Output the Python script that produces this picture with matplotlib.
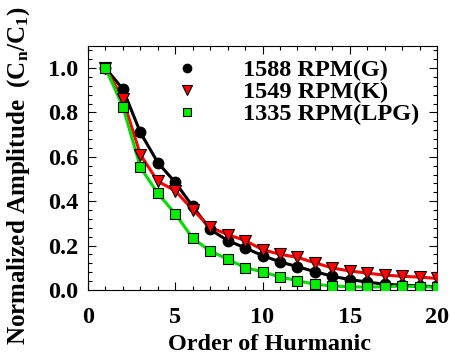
import numpy as np
import matplotlib
matplotlib.use("Agg")
import matplotlib.pyplot as plt
from matplotlib.ticker import MultipleLocator

# === Data ===
order = np.arange(1, 21)
amp_g = [1.0, 0.905, 0.71, 0.574, 0.485, 0.377, 0.273, 0.223, 0.19, 0.155,
         0.127, 0.105, 0.083, 0.062, 0.047, 0.036, 0.026, 0.022, 0.018, 0.015]
amp_k = [1.0, 0.86, 0.61, 0.49, 0.447, 0.362, 0.283, 0.25, 0.223, 0.182,
         0.161, 0.147, 0.123, 0.099, 0.086, 0.076, 0.067, 0.062, 0.058, 0.052]
amp_lpg = [1.0, 0.826, 0.553, 0.435, 0.344, 0.233, 0.176, 0.139, 0.101, 0.082,
           0.059, 0.042, 0.026, 0.018, 0.015, 0.013, 0.015, 0.018, 0.015, 0.013]
labels = ['1588 RPM(G)', '1549 RPM(K)', '1335 RPM(LPG)']

# === Style ===
plt.rcParams['font.family'] = 'Liberation Serif'
plt.rcParams['font.weight'] = 'bold'
plt.rcParams['font.size'] = 17.5
plt.rcParams['mathtext.fontset'] = 'custom'
plt.rcParams['mathtext.rm'] = 'Liberation Serif:bold'
plt.rcParams['mathtext.it'] = 'Liberation Serif:bold'
plt.rcParams['mathtext.bf'] = 'Liberation Serif:bold'

fig = plt.figure(figsize=(4.5, 3.56), dpi=100)
ax = fig.add_axes([0.1956, 0.1854, 0.7755, 0.6856])

# lines first, markers on top
ax.plot(order, amp_g, color='black', lw=2.2, zorder=2)
ax.plot(order, amp_k, color='#ff0000', lw=2.2, zorder=2)
ax.plot(order, amp_lpg, color='#00dd00', lw=2.2, zorder=2)

ax.plot(order, amp_g, 'o', color='black', ms=7.5, mec='black', label=labels[0], zorder=3)
ax.plot(order, amp_k, 'v', color='#ff0000', ms=8.5, mec='black', mew=0.8, label=labels[1], zorder=3)
ax.plot(order, amp_lpg, 's', color='#00ee00', ms=7.5, mec='black', mew=0.8, label=labels[2], zorder=4)

ax.set_xlim(0, 20)
ax.set_ylim(0, 1.1)
ax.xaxis.set_major_locator(MultipleLocator(5))
ax.xaxis.set_minor_locator(MultipleLocator(1))
ax.yaxis.set_major_locator(MultipleLocator(0.2))
ax.yaxis.set_minor_locator(MultipleLocator(0.04))
ax.yaxis.set_major_formatter(plt.FuncFormatter(lambda v, p: f'{v:.1f}'))
ax.tick_params(which='both', direction='in', top=True, right=True, width=0.8)
ax.tick_params(which='major', length=6)
ax.tick_params(axis='x', which='major', pad=12)
ax.tick_params(axis='y', which='major', pad=7)
ax.tick_params(which='minor', length=3)
for s in ax.spines.values():
    s.set_linewidth(0.8)

ax.set_xlabel('Order of Hurmanic', fontweight='bold')
ax.set_ylabel(r'Normalized Amplitude  (C$_\mathrm{n}$/C$_\mathrm{1}$)', fontweight='bold',
              fontsize=18)
ax.xaxis.set_label_coords(0.52, -0.18)
ax.yaxis.set_label_coords(-0.16, 0.467)

ax.legend(loc='upper right', frameon=False, markerscale=0.8, handletextpad=1.8,
          handlelength=1.0, borderaxespad=0.1, labelspacing=0.0,
          bbox_to_anchor=(0.985, 0.995))

fig.savefig('out.png', dpi=100)
